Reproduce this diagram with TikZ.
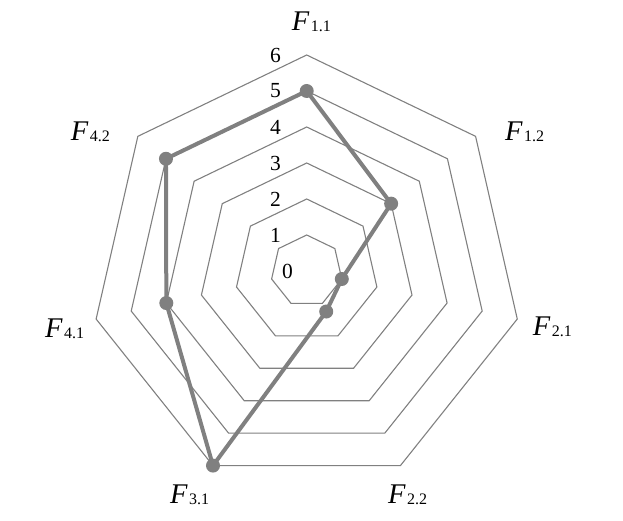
\documentclass[tikz,border=0pt]{standalone}
\usepackage{fontspec}
\setmainfont{Liberation Serif}
\definecolor{chartgray}{RGB}{128,128,128}
\newcommand{\flabel}[1]{{\fontsize{28.5}{30}\selectfont\itshape F}\hspace{1.5pt}{\fontsize{16}{18}\selectfont\raisebox{-1pt}{#1}}}

\begin{document}
\begin{tikzpicture}[x=1pt,y=1pt,
    ring/.style={draw=chartgray,line width=1.1pt},
    dataline/.style={draw=chartgray,line width=4pt,line join=round},
    dot/.style={circle,fill=chartgray,inner sep=0pt,minimum size=14pt},
    num/.style={anchor=east,inner sep=0pt,font=\fontsize{21.5}{24}\selectfont},
    axislabel/.style={anchor=base west,inner sep=0pt}]
\useasboundingbox (0,0) rectangle (623,521);
\begin{scope}[shift={(306.7,250)}]
\foreach \r in {1,...,6}
  \draw[ring] (90:{\r*36}) \foreach \k in {1,...,6} {-- ({90-\k*360/7}:{\r*36})} -- cycle;
\foreach \r in {1,...,6} \node[num] (n\r) at (-25.7,\r*36) {\r};
\node[num] (n0) at (-13.7,0) {0};
\foreach \v [count=\k from 0] in {5,3,1,1.25,6,4,5}
  \coordinate (p\k) at ({90-\k*360/7}:{\v*36});
\draw[dataline] (p0) -- (p1) -- (p2) -- (p3) -- (p4) -- (p5) -- (p6) -- cycle;
\foreach \k in {0,...,6} \node[dot] (d\k) at (p\k) {};
\end{scope}
\node[axislabel] (l11) at (291.7,490.3) {\flabel{1.1}};
\node[axislabel] (l12) at (505,380.3) {\flabel{1.2}};
\node[axislabel] (l21) at (532.7,185) {\flabel{2.1}};
\node[axislabel] (l22) at (388,17.7) {\flabel{2.2}};
\node[axislabel] (l31) at (170,17.7) {\flabel{3.1}};
\node[axislabel] (l41) at (45,183.7) {\flabel{4.1}};
\node[axislabel] (l42) at (70.7,380.3) {\flabel{4.2}};
\end{tikzpicture}
\end{document}
